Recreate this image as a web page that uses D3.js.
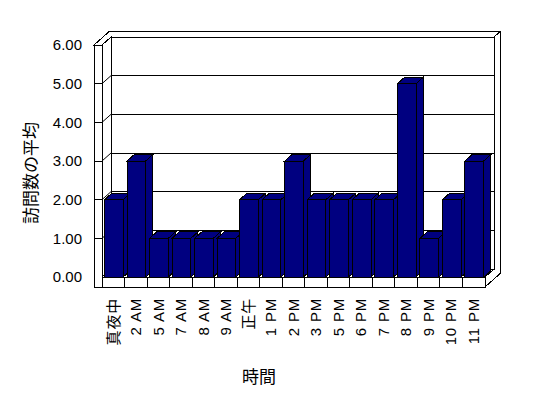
<!DOCTYPE html>
<html>
<head>
<meta charset="utf-8">
<script src="https://cdn.jsdelivr.net/npm/d3@7"></script>
<style>
  body { margin: 0; background: #fff; }
  svg { display: block; font-family: "Liberation Sans", Arial, sans-serif; }
</style>
</head>
<body>
<div id="chart"></div>
<script>
// data
const categories = ["真夜中", "2 AM", "5 AM", "7 AM", "8 AM", "9 AM", "正午", "1 PM", "2 PM",
    "3 PM", "5 PM", "6 PM", "7 PM", "8 PM", "9 PM", "10 PM", "11 PM"];
const visits = [2, 3, 1, 1, 1, 1, 2, 2, 3, 2, 2, 2, 2, 5, 1, 2, 3];
const yTicks = [0, 1, 2, 3, 4, 5, 6];
const yTitle = "訪問数の平均";
const xTitle = "時間";

const width = 548, height = 398;
const svg = d3.select("#chart").append("svg")
    .attr("width", width).attr("height", height);

// 3d oblique projection: depth d = 0 front, 1 back wall face
const KX = 9, KY = 8, D_OUT = 1.7, D_BAR = 0.8;
const P = (x, y, d) => [x + d * KX, y - d * KY];
const wallL = 94;

const x = d3.scaleBand().domain(categories).range([102, 485]).padding(0);
const y = d3.scaleLinear().domain([0, 6]).range([277, 45]);
const x0 = x.range()[0], x1 = x.range()[1];
const yTop = y(6), yBase = y(0), yFloorBot = yBase + 10;

const line = d3.line();
const poly = pts => line(pts) + "Z";

const g = svg.append("g")
    .attr("fill", "#fff").attr("stroke", "#000").attr("stroke-width", 1)
    .attr("shape-rendering", "crispEdges");

// wall tops (left + back)
g.append("path").attr("d", poly([
    P(wallL, yTop, 0), P(x0, yTop, 0), P(x0, yTop, 1), P(x1, yTop, 1),
    P(x1, yTop, D_OUT), P(wallL, yTop, D_OUT)]));
// right side of back wall and floor
g.append("path").attr("d", poly([
    P(x1, yTop, 1), P(x1, yTop, D_OUT), P(x1, yFloorBot, D_OUT),
    P(x1, yFloorBot, 0), P(x1, yBase, 0), P(x1, yBase, 1)]));
// back wall face
g.append("path").attr("d", poly([P(x0, yTop, 1), P(x1, yTop, 1), P(x1, yBase, 1), P(x0, yBase, 1)]));
// left wall inner face
g.append("path").attr("d", poly([P(x0, yTop, 0), P(x0, yTop, 1), P(x0, yBase, 1), P(x0, yBase, 0)]));
// floor top
g.append("path").attr("d", poly([P(x0, yBase, 0), P(x1, yBase, 0), P(x1, yBase, 1), P(x0, yBase, 1)]));

// gridlines on back wall and left wall
const grid = g.append("g").attr("fill", "none");
yTicks.filter(v => v > 0 && v < 6).forEach(v => {
    grid.append("path").attr("d", line([P(x0, y(v), 1), P(x1, y(v), 1)]));
    grid.append("path").attr("d", line([P(x0, y(v), 0), P(x0, y(v), 1)]))
        .attr("shape-rendering", "auto");
});

// bars
const bw = x.bandwidth();
const bars = g.append("g").attr("fill", "#000080");
categories.forEach((c, i) => {
    const bx0 = x(c) + bw * 0.11, bx1 = x(c) + bw * 0.94;
    const by = y(visits[i]);
    const b = bars.append("g");
    b.append("path").attr("d", poly([P(bx0, by, 0), P(bx1, by, 0), P(bx1, by, D_BAR), P(bx0, by, D_BAR)]));
    b.append("path").attr("d", poly([P(bx1, by, 0), P(bx1, by, D_BAR), P(bx1, yBase, D_BAR), P(bx1, yBase, 0)]));
    b.append("rect").attr("x", bx0).attr("y", by).attr("width", bx1 - bx0).attr("height", yBase - by);
});

// front faces: floor edge and left wall edge
g.append("rect").attr("x", wallL).attr("y", yBase).attr("width", x1 - wallL).attr("height", yFloorBot - yBase);
g.append("rect").attr("x", wallL).attr("y", yTop).attr("width", x0 - wallL).attr("height", yFloorBot - yTop);
// category dividers on the floor edge
categories.slice(1).forEach(c => {
    g.append("line").attr("x1", x(c)).attr("x2", x(c)).attr("y1", yBase).attr("y2", yFloorBot);
});
// ticks on the left wall edge
yTicks.filter(v => v > 0 && v < 6).forEach(v => {
    g.append("line").attr("x1", wallL).attr("x2", x0).attr("y1", y(v)).attr("y2", y(v));
});

// y axis labels
const yAxis = svg.append("g")
    .attr("transform", `translate(${wallL - 9},0)`)
    .call(d3.axisLeft(y).tickValues(yTicks).tickFormat(d3.format(".2f")).tickSize(0).tickPadding(3));
yAxis.select(".domain").remove();
yAxis.selectAll("text").attr("font-size", 15).attr("fill", "#000")
    .attr("font-family", "'Liberation Sans', Arial, sans-serif");

// x axis labels, rotated
const xAxis = svg.append("g")
    .attr("transform", `translate(0,${yFloorBot})`)
    .call(d3.axisBottom(x).tickSize(0));
xAxis.select(".domain").remove();
xAxis.selectAll("text")
    .attr("font-size", 15).attr("fill", "#000")
    .attr("font-family", "'Liberation Sans', 'Noto Sans CJK JP', sans-serif")
    .attr("letter-spacing", "0.8px")
    .attr("transform", "rotate(-90)")
    .attr("text-anchor", "end")
    .attr("x", -11).attr("y", 0).attr("dy", "0.35em");

// titles
svg.append("text")
    .attr("transform", "translate(29,173) rotate(-90)")
    .attr("text-anchor", "middle").attr("dominant-baseline", "central")
    .attr("font-size", 17).attr("font-family", "'Noto Sans CJK JP', sans-serif")
    .text(yTitle);
svg.append("text")
    .attr("x", 259).attr("y", 375)
    .attr("text-anchor", "middle").attr("dominant-baseline", "central")
    .attr("font-size", 17).attr("font-family", "'Noto Sans CJK JP', sans-serif")
    .text(xTitle);
</script>
</body>
</html>
